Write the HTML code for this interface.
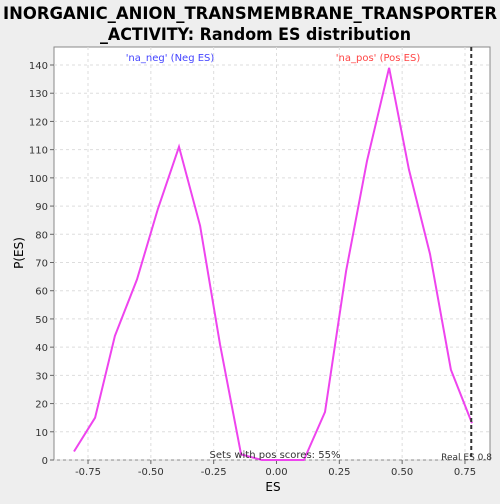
<!DOCTYPE html>
<html><head><meta charset="utf-8"><style>
body{margin:0;background:#eeeeee;font-family:"DejaVu Sans","Liberation Sans",sans-serif;}
</style></head><body>
<svg width="500" height="500" xmlns="http://www.w3.org/2000/svg" font-family="DejaVu Sans, Liberation Sans, sans-serif">
<rect width="500" height="500" fill="#eeeeee"/>
<text x="250" y="19" text-anchor="middle" font-size="17" font-weight="bold" fill="#000" textLength="494" lengthAdjust="spacingAndGlyphs">INORGANIC_ANION_TRANSMEMBRANE_TRANSPORTER</text>
<text x="255.5" y="40" text-anchor="middle" font-size="17" font-weight="bold" fill="#000" textLength="311" lengthAdjust="spacingAndGlyphs">_ACTIVITY: Random ES distribution</text>
<rect x="54" y="47" width="436" height="413" fill="#fff" stroke="#888"/>
<g id="grid"></g><g id="axes"></g><g id="series"></g>
<text x="170" y="61" text-anchor="middle" font-size="10" fill="#4444ff">'na_neg' (Neg ES)</text>
<text x="378" y="61" text-anchor="middle" font-size="10" fill="#ff4444">'na_pos' (Pos ES)</text>
<text x="275" y="458" text-anchor="middle" font-size="10" fill="#333">Sets with pos scores: 55%</text>
<text x="492" y="460" text-anchor="end" font-size="9" fill="#333">Real ES 0.8</text>
<text x="273" y="491" text-anchor="middle" font-size="12" fill="#000">ES</text>
<text x="23" y="253" text-anchor="middle" font-size="12" fill="#000" transform="rotate(-90 23 253)">P(ES)</text>
</svg>
<script>
const esValues=[-0.806,-0.722,-0.643,-0.555,-0.472,-0.388,-0.304,-0.225,-0.141,-0.058,0.026,0.109,0.193,0.277,0.360,0.448,0.527,0.611,0.694,0.778];
const pValues=[3,15,44,64,89,111,83,41,2,0,0,0,17,67,106,139,103,73,32,13];
const xTicks=[-0.75,-0.5,-0.25,0,0.25,0.5,0.75];
const xTickLabels=["-0.75","-0.50","-0.25","0.00","0.25","0.50","0.75"];
const yTicks=[0,10,20,30,40,50,60,70,80,90,100,110,120,130,140];
const realES=[0.775];
const NS="http://www.w3.org/2000/svg";
function X(v){return 276.5+v*251.3;}
function Y(v){return 460-v*2.8214;}
function mk(t,a,p){const e=document.createElementNS(NS,t);for(const k in a)e.setAttribute(k,a[k]);p.appendChild(e);return e;}
const grid=document.getElementById('grid'),axes=document.getElementById('axes'),ser=document.getElementById('series');
xTicks.forEach((v,i)=>{
 const g=mk('line',{x1:X(v),x2:X(v),y1:47,y2:460,stroke:'#ddd','stroke-dasharray':'3,3'},grid);
 
 
 const t=mk('line',{x1:X(v),x2:X(v),y1:460,y2:464,stroke:'#666'},axes);
 
 
 const l=mk('text',{x:X(v),y:475,'text-anchor':'middle','font-size':10,fill:'#333'},axes);
 l.textContent=xTickLabels[i];
 
 
});
yTicks.forEach(v=>{
 const g=mk('line',{x1:54,x2:490,y1:Y(v),y2:Y(v),stroke:'#ddd','stroke-dasharray':'3,3'},grid);
 
 
 const t=mk('line',{x1:50,x2:54,y1:Y(v),y2:Y(v),stroke:'#666'},axes);
 
 
 const l=mk('text',{x:48,y:Y(v)+4,'text-anchor':'end','font-size':10,fill:'#333'},axes);
 l.textContent=String(v);
 
 
});
const pts=esValues.map((e,i)=>X(e).toFixed(1)+','+Y(pValues[i]).toFixed(1)).join(' ');
const line=mk('polyline',{points:pts,fill:'none',stroke:'#ee44ee','stroke-width':2},ser);


realES.forEach(v=>{
 const r=mk('line',{x1:X(v),x2:X(v),y1:47,y2:460,stroke:'#333','stroke-width':2,'stroke-dasharray':'4,3'},ser);
 
 
});
</script>
</body></html>
